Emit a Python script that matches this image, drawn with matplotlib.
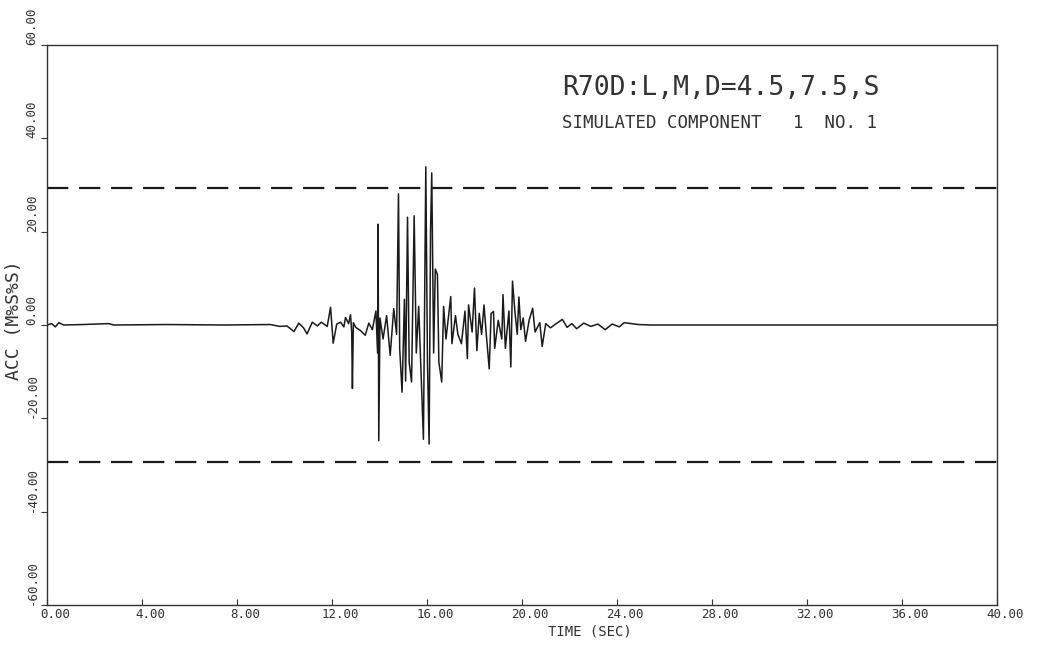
import matplotlib
matplotlib.use("Agg")
import matplotlib.pyplot as plt
from matplotlib.transforms import ScaledTranslation

# acceleration record, picked off as (time, value) turning points
time_s = [0.0, 0.2, 0.35, 0.5, 0.7, 1.5, 2.6, 2.8, 5.0, 7.5, 9.4, 9.8, 10.1,
          10.4, 10.6, 10.8, 10.95, 11.17, 11.38, 11.55, 11.8, 11.94, 12.0,
          12.05, 12.2, 12.36, 12.5, 12.57, 12.7, 12.78, 12.83, 12.86, 12.9,
          13.0, 13.2, 13.4, 13.55, 13.7, 13.85, 13.92, 13.94, 13.97, 14.02,
          14.15, 14.3, 14.45, 14.6, 14.72, 14.8, 14.85, 14.95, 15.05, 15.1,
          15.18, 15.25, 15.35, 15.46, 15.55, 15.65, 15.75, 15.85, 15.95,
          16.02, 16.09, 16.15, 16.2, 16.28, 16.35, 16.44, 16.5, 16.62, 16.7,
          16.8, 16.9, 17.0, 17.05, 17.2, 17.3, 17.45, 17.6, 17.7, 17.75,
          17.9, 18.0, 18.1, 18.2, 18.3, 18.4, 18.5, 18.62, 18.7, 18.8, 18.85,
          19.0, 19.15, 19.2, 19.3, 19.45, 19.53, 19.6, 19.7, 19.8, 19.87,
          19.95, 20.05, 20.15, 20.3, 20.45, 20.55, 20.75, 20.85, 21.0, 21.2,
          21.5, 21.7, 21.9, 22.1, 22.3, 22.6, 22.9, 23.2, 23.5, 23.8, 24.1,
          24.3, 24.6, 24.9, 25.4, 26.0, 40.0]
acc = [0.0, 0.3, -0.4, 0.5, 0.0, 0.1, 0.3, 0.0, 0.1, 0.0, 0.1, -0.3, -0.2,
       -1.4, 0.4, -0.6, -1.9, 0.6, -0.2, 0.6, -0.3, 3.8, -0.5,
       -3.9, 0.2, 0.6, -0.4, 1.6, 0.3, 2.2, -1.5, -13.6, 0.5,
       -0.5, -1.2, -2.2, 0.4, -1.0, 3.0, -6.0, 21.6, -24.8, 1.5,
       -3.0, 2.0, -6.5, 3.5, -2.0, 28.1, -5.0, -14.4, 5.5, -12.0,
       23.1, -8.0, -12.2, 23.4, -6.0, 4.0, -10.0, -24.5, 33.9,
       -8.0, -25.5, 20.0, 32.6, -6.0, 12.0, 10.8, -8.0, -12.2, 4.0,
       -3.0, 1.5, 6.1, -4.0, 2.0, -2.0, -4.0, 3.0, -7.2, 4.3,
       -1.5, 7.9, -5.5, 2.5, -2.0, 4.3, -2.2, -9.4, 2.5, 2.9, -5.0,
       1.0, -3.0, 6.5, -5.0, 3.0, -9.0, 9.4, 3.0, -2.0, 6.0,
       -1.0, 1.5, -3.5, 1.0, 3.6, -1.5, 0.5, -4.6, 0.3, -0.6,
       0.5, 1.2, -0.5, 0.3, -0.8, 0.4, -0.3, 0.2, -1.0, 0.2, -0.4,
       0.5, 0.3, 0.1, 0.0, 0.0, 0.0]

limit = 29.4  # design level, drawn as +/- dashed lines

xticks = [0, 4, 8, 12, 16, 20, 24, 28, 32, 36, 40]
xlabels = ["0.00", "4.00", "8.00", "12.00", "16.00", "20.00", "24.00",
           "28.00", "32.00", "36.00", "40.00"]
yticks = [-60, -40, -20, 0, 20, 40, 60]
ylabels = ["-60.00", "-40.00", "-20.00", "0.00", "20.00", "40.00", "60.00"]

mono = "DejaVu Sans Mono"
ink = "#1a1a1a"
grey = "#333333"

fig = plt.figure(figsize=(10.42, 6.46), dpi=100)
ax = fig.add_axes([0.0451, 0.0635, 0.9117, 0.8668])

ax.plot(time_s, acc, "-", color=ink, lw=1.1)
ax.axhline(limit, color=ink, lw=1.6, linestyle=(0, (9.6, 4.8)))
ax.axhline(-limit, color=ink, lw=1.6, linestyle=(0, (9.6, 4.8)))

ax.set_xlim(0, 40)
ax.set_ylim(-60, 60)
for s in ax.spines.values():
    s.set_color(grey)
    s.set_linewidth(1.0)

ax.set_xticks(xticks)
ax.set_xticklabels(xlabels, family=mono, fontsize=9, color=grey)
ax.tick_params(axis="x", direction="in", length=4, pad=2, color=grey)
# plotter labels sit a little right of their ticks
shift = ScaledTranslation(0.08, 0, fig.dpi_scale_trans)
for lab in ax.get_xticklabels():
    lab.set_transform(lab.get_transform() + shift)

ax.set_yticks(yticks)
ax.set_yticklabels(ylabels, family=mono, fontsize=9, color=grey,
                   rotation=90)
for lab in ax.get_yticklabels():
    lab.set_va("bottom")
    lab.set_ha("right")
ax.tick_params(axis="y", direction="out", length=4, pad=2, color=grey)

fig.text(0.566, 0.022, "TIME (SEC)", family=mono, fontsize=10,
         color=grey, ha="center", va="center")
fig.text(0.0135, 0.505, "ACC (M%S%S)", family=mono, fontsize=13,
         color=grey, ha="center", va="center", rotation=90)

fig.text(0.539, 0.853, "R70D:L,M,D=4.5,7.5,S", family=mono, fontsize=19,
         color=grey, ha="left", va="baseline")
fig.text(0.539, 0.802, "SIMULATED COMPONENT   1  NO. 1", family=mono,
         fontsize=12.5, color=grey, ha="left", va="baseline")

fig.savefig("out.png", dpi=100)
